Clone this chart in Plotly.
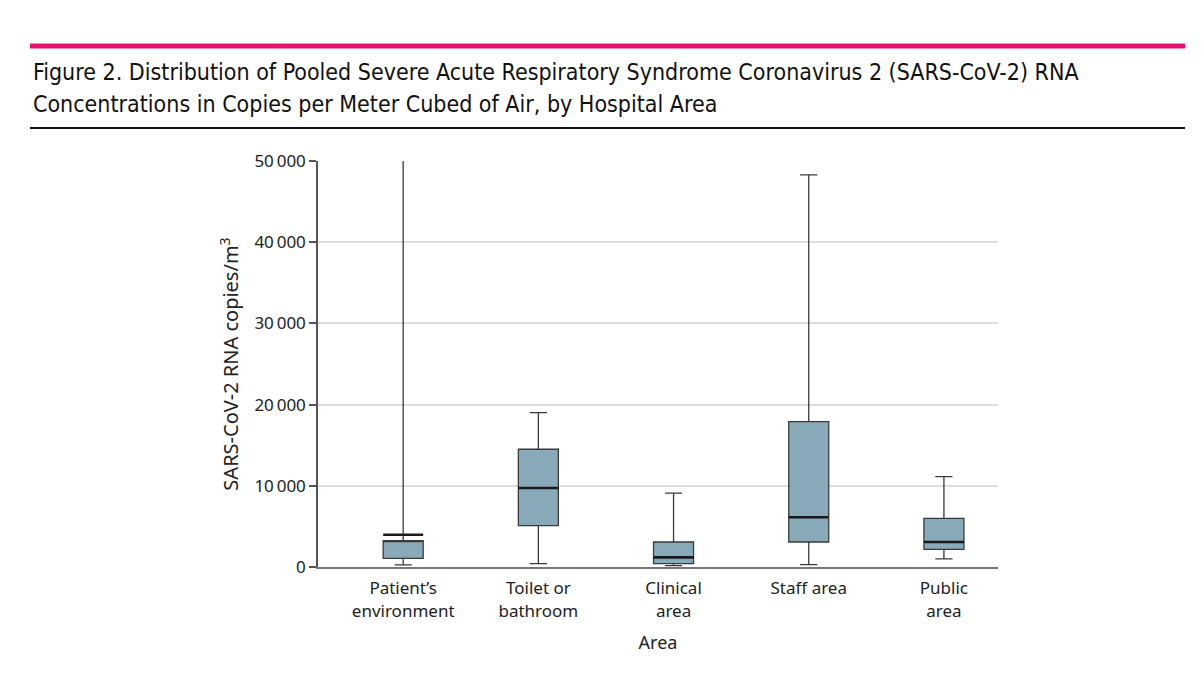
import plotly.graph_objects as go

categories = ["Patient’s<br>environment", "Toilet or<br>bathroom", "Clinical<br>area", "Staff area", "Public<br>area"]
q1 = [1070, 5090, 410, 3080, 2180]
median = [3980, 9730, 1190, 6120, 3080]
q3 = [3240, 14500, 3080, 17900, 6000]
lowerfence = [250, 410, 160, 290, 990]
upperfence = [60000, 19000, 9110, 48300, 11120]
y_ticks = [0, 10000, 20000, 30000, 40000, 50000]

title_line1 = "Figure 2. Distribution of Pooled Severe Acute Respiratory Syndrome Coronavirus 2 (SARS-CoV-2) RNA"
title_line2 = "Concentrations in Copies per Meter Cubed of Air, by Hospital Area"

OFF = 8  # page body margin
W, H = 1204 - OFF, 688 - OFF
L, R, T, B = 318 - OFF, 998 - OFF, 161 - OFF, 567 - OFF
xpos = list(range(len(categories)))
box_w = 0.296

# Plotly refuses a box whose median lies outside [q1, q3]; the box is drawn with a
# median held inside it and the true median line is drawn on top.
box_median = [min(max(m, a), b) for m, a, b in zip(median, q1, q3)]

fig = go.Figure()
fig.add_trace(go.Box(
    x=xpos, q1=q1, median=box_median, q3=q3,
    lowerfence=lowerfence, upperfence=upperfence,
    width=box_w, whiskerwidth=0.43,
    fillcolor="#87A9B8", line=dict(color="#3a3a3a", width=1.3),
    boxpoints=False, showlegend=False, hoverinfo="skip",
))
mx, my = [], []
for i, m in zip(xpos, median):
    mx += [i - box_w / 2, i + box_w / 2, None]
    my += [m, m, None]
fig.add_trace(go.Scatter(x=mx, y=my, mode="lines", line=dict(color="#1a1a1a", width=2.6),
                         showlegend=False, hoverinfo="skip"))

def px_x(p):
    return (p - OFF - L) / (R - L)

def px_y(p):
    return (B - (p - OFF)) / (B - T)

fig.add_shape(type="line", xref="paper", yref="paper", x0=px_x(30), x1=px_x(1185),
              y0=px_y(46), y1=px_y(46), line=dict(color="#E3126E", width=5))
fig.add_shape(type="line", xref="paper", yref="paper", x0=px_x(30), x1=px_x(1185),
              y0=px_y(128), y1=px_y(128), line=dict(color="#111111", width=2))
title_font = dict(family="Liberation Sans Narrow, DejaVu Sans Condensed, sans-serif", size=23, color="#111111")
for txt, yc in [(title_line1, 72), (title_line2, 104)]:
    fig.add_annotation(xref="paper", yref="paper", x=px_x(31), y=px_y(yc), xanchor="left", yanchor="middle",
                       text=txt, showarrow=False, align="left", font=title_font)

fig.update_layout(
    width=W, height=H,
    margin=dict(l=L, r=W - R, t=T, b=H - B, pad=0),
    paper_bgcolor="white", plot_bgcolor="white",
    separators=".\u2009",
    font=dict(family="Noto Sans, sans-serif", size=17, color="#222222"),
    xaxis=dict(range=[-0.63, 4.4], tickmode="array", tickvals=xpos, ticktext=categories,
               showgrid=False, zeroline=False, showline=True, linecolor="#777777", linewidth=2,
               ticks="", ticklabelstandoff=5, tickfont=dict(size=17, color="#222222"),
               title=dict(text="Area", font=dict(size=18, color="#222222"), standoff=16)),
    yaxis=dict(range=[0, 50000], tickmode="array", tickvals=y_ticks, tickformat=",d",
               showgrid=True, gridcolor="#dddddd", gridwidth=1.5, zeroline=False,
               showline=True, linecolor="#555555", linewidth=1.5,
               ticks="outside", ticklen=7, tickcolor="#555555", tickwidth=1.5,
               tickfont=dict(size=17, color="#222222"),
               title=dict(text="SARS-CoV-2 RNA copies/m<sup>3</sup>", font=dict(size=20, color="#222222"), standoff=10)),
)

fig.write_html("out.html")
